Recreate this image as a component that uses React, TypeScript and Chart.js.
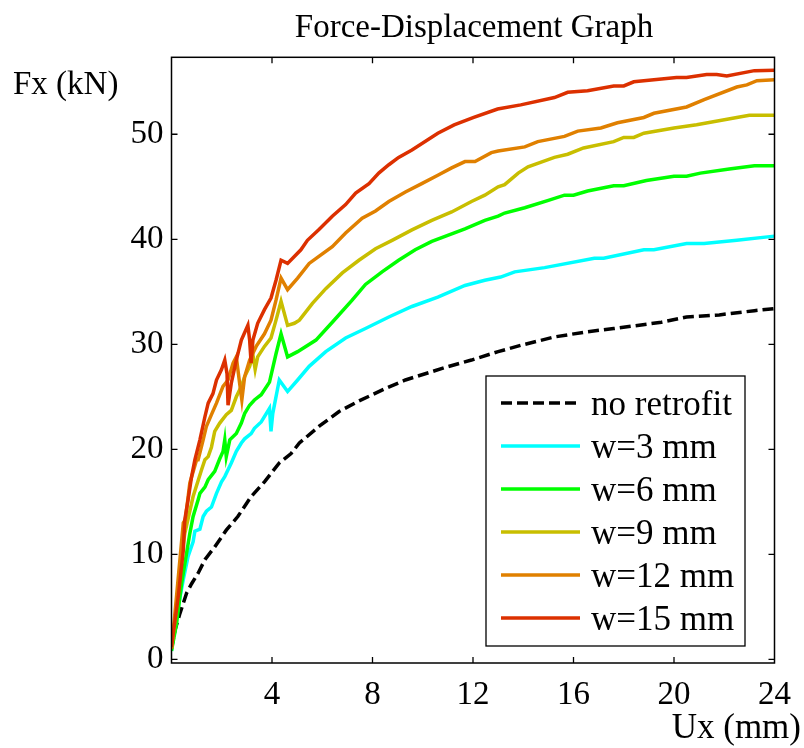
import { useEffect, useRef } from 'react';
import { Chart, registerables } from 'chart.js';

Chart.register(...registerables);

const FONT = '"Liberation Serif", "Times New Roman", Times, serif';

const titleText = 'Force-Displacement Graph';
const yAxisLabel = 'Fx (kN)';
const xAxisLabel = 'Ux (mm)';
const xTickValues = [4, 8, 12, 16, 20, 24];
const xTickMarks = [4, 8, 12, 16, 20];
const yTickValues = [0, 10, 20, 30, 40, 50];

const seriesLabels = ['no retrofit', 'w=3 mm', 'w=6 mm', 'w=9 mm', 'w=12 mm', 'w=15 mm'];
const seriesColors = ['#000000', '#00FFFF', '#00FF00', '#C8BE00', '#E08000', '#DC3000'];

const noRetrofitX = [0, 0.14, 0.34, 0.6, 0.8, 1.06, 1.33, 1.72, 2.18, 2.64, 3.17, 3.7, 4.29, 4.76, 5.09, 5.88, 6.67, 7.46, 8.52, 9.31, 10.9, 11.94, 13.0, 13.9, 15.24, 16.56, 17.6, 19.5, 20.5, 21.8, 23.2, 24];
const noRetrofitY = [1.0, 2.8, 4.4, 6.3, 7.2, 8.2, 9.5, 10.7, 12.3, 13.6, 15.5, 16.9, 18.7, 19.6, 20.6, 22.2, 23.6, 24.6, 25.8, 26.6, 27.8, 28.5, 29.3, 29.9, 30.7, 31.2, 31.5, 32.1, 32.6, 32.8, 33.2, 33.4];

const w3X = [0, 0.07, 0.27, 0.47, 0.66, 0.86, 0.93, 1.13, 1.26, 1.39, 1.59, 1.79, 1.99, 2.12, 2.38, 2.58, 2.78, 2.91, 3.17, 3.3, 3.57, 3.9, 3.96, 4.03, 4.29, 4.62, 5.02, 5.48, 6.14, 6.93, 7.72, 8.65, 9.57, 10.6, 11.68, 12.47, 13.1, 13.66, 14.85, 16.83, 17.2, 18.8, 19.2, 20.5, 21.2, 22.5, 24];
const w3Y = [0.8, 2.2, 5.0, 7.6, 9.8, 11.2, 12.2, 12.4, 13.6, 14.1, 14.5, 15.8, 16.9, 17.4, 18.7, 19.8, 20.6, 21.0, 21.5, 22.0, 22.6, 23.9, 21.7, 23.4, 26.6, 25.5, 26.6, 27.9, 29.3, 30.6, 31.5, 32.6, 33.6, 34.5, 35.6, 36.1, 36.4, 36.9, 37.3, 38.2, 38.2, 39.0, 39.0, 39.6, 39.6, 39.9, 40.3];

const w6X = [0, 0.2, 0.4, 0.6, 0.73, 0.86, 1.06, 1.13, 1.33, 1.46, 1.72, 1.92, 2.05, 2.12, 2.18, 2.32, 2.58, 2.78, 2.91, 3.11, 3.3, 3.57, 3.9, 4.16, 4.36, 4.62, 5.02, 5.75, 6.4, 7.19, 7.72, 8.38, 9.04, 9.7, 10.36, 11.02, 11.68, 12.47, 13.0, 13.26, 14.06, 15.0, 15.64, 16.0, 16.56, 17.6, 18.0, 18.9, 20.0, 20.5, 21.05, 22.2, 23.2, 24];
const w6Y = [0.8, 3.4, 7.2, 10.1, 12.0, 13.6, 15.2, 15.8, 16.4, 17.1, 17.9, 19.1, 19.8, 20.9, 19.3, 20.9, 21.5, 22.5, 23.4, 24.2, 24.7, 25.2, 26.4, 29.1, 31.0, 28.8, 29.3, 30.4, 32.1, 34.2, 35.7, 36.9, 38.0, 39.0, 39.8, 40.4, 41.0, 41.8, 42.2, 42.5, 43.0, 43.7, 44.2, 44.2, 44.6, 45.1, 45.1, 45.6, 46.0, 46.0, 46.3, 46.7, 47.0, 47.0];

const w9X = [0, 0.2, 0.47, 0.53, 0.86, 1.19, 1.33, 1.46, 1.59, 1.72, 1.92, 2.18, 2.38, 2.58, 2.78, 2.91, 3.11, 3.24, 3.33, 3.43, 3.7, 3.96, 4.16, 4.36, 4.62, 4.89, 5.09, 5.61, 6.14, 6.8, 7.46, 8.12, 8.78, 9.57, 10.36, 11.15, 11.94, 12.47, 13.0, 13.26, 13.8, 14.19, 15.24, 15.77, 16.4, 17.6, 18.0, 18.4, 18.8, 20.0, 20.9, 22.5, 23.0, 24];
const w9Y = [1.0, 5.0, 11.0, 12.0, 15.5, 18.0, 19.0, 19.3, 20.2, 21.7, 22.5, 23.3, 23.7, 25.0, 26.0, 26.9, 27.9, 29.0, 27.6, 28.8, 29.8, 30.6, 32.3, 34.1, 31.8, 32.0, 32.3, 33.9, 35.3, 36.8, 38.0, 39.1, 39.9, 40.9, 41.8, 42.6, 43.6, 44.2, 45.0, 45.2, 46.3, 46.9, 47.8, 48.1, 48.7, 49.3, 49.7, 49.7, 50.1, 50.6, 50.9, 51.6, 51.8, 51.8];

const w12X = [0, 0.2, 0.47, 0.55, 0.73, 1.0, 1.06, 1.26, 1.39, 1.59, 1.79, 2.05, 2.25, 2.45, 2.58, 2.71, 2.8, 2.91, 3.11, 3.37, 3.7, 3.96, 4.16, 4.36, 4.62, 5.02, 5.48, 5.88, 6.4, 6.93, 7.59, 8.12, 8.65, 9.31, 9.96, 10.6, 11.15, 11.68, 12.08, 12.73, 13.0, 14.06, 14.58, 15.64, 16.17, 17.09, 17.75, 18.8, 19.2, 20.5, 21.2, 22.5, 22.9, 23.3, 24];
const w12Y = [1.0, 6.0, 13.0, 13.3, 16.8, 19.0, 19.0, 20.9, 22.2, 23.3, 24.4, 26.0, 26.6, 28.2, 28.8, 26.3, 24.7, 26.9, 28.5, 29.8, 31.0, 32.3, 34.2, 36.3, 35.2, 36.3, 37.7, 38.4, 39.3, 40.6, 42.0, 42.7, 43.6, 44.5, 45.3, 46.1, 46.8, 47.4, 47.4, 48.25, 48.4, 48.8, 49.3, 49.8, 50.3, 50.6, 51.1, 51.6, 52.0, 52.6, 53.3, 54.5, 54.7, 55.1, 55.2];

const w15X = [0, 0.27, 0.47, 0.53, 0.66, 0.8, 0.93, 1.13, 1.33, 1.46, 1.65, 1.79, 1.99, 2.12, 2.21, 2.25, 2.38, 2.58, 2.78, 3.04, 3.11, 3.17, 3.24, 3.43, 3.7, 3.96, 4.16, 4.36, 4.62, 5.15, 5.41, 5.88, 6.4, 6.93, 7.33, 7.86, 8.25, 8.65, 9.04, 9.57, 10.6, 11.25, 12.03, 12.98, 13.9, 15.24, 15.77, 16.56, 17.6, 18.0, 18.4, 19.2, 20.1, 20.5, 21.3, 21.7, 22.1, 23.2, 24];
const w15Y = [1.2, 6.0, 10.4, 13.3, 15.2, 17.4, 19.0, 20.9, 23.1, 24.4, 25.3, 26.6, 27.6, 28.5, 27.2, 24.2, 26.3, 28.5, 30.4, 31.8, 30.4, 28.2, 30.4, 32.0, 33.3, 34.4, 36.1, 38.0, 37.7, 39.0, 39.9, 40.95, 42.2, 43.3, 44.4, 45.3, 46.3, 47.1, 47.8, 48.5, 50.1, 50.9, 51.6, 52.4, 52.8, 53.5, 54.0, 54.15, 54.6, 54.6, 55.0, 55.2, 55.4, 55.4, 55.7, 55.7, 55.55, 56.06, 56.1];

const seriesX = [noRetrofitX, w3X, w6X, w9X, w12X, w15X];
const seriesY = [noRetrofitY, w3Y, w6Y, w9Y, w12Y, w15Y];
const seriesDash = [[11, 5], [], [], [], [], []];

const matlabPlugin = {
  id: 'matlabFrame',
  afterDraw(chart: any) {
    const { ctx, chartArea } = chart;
    const xs = chart.scales.x;
    const ys = chart.scales.y;
    const { left, right, top, bottom } = chartArea;
    ctx.save();
    ctx.strokeStyle = '#000';
    ctx.lineWidth = 1.5;
    ctx.strokeRect(left, top, right - left, bottom - top);
    const tl = 6;
    ctx.lineWidth = 1.3;
    ctx.beginPath();
    xTickMarks.forEach((v) => {
      const px = xs.getPixelForValue(v);
      ctx.moveTo(px, bottom);
      ctx.lineTo(px, bottom - tl);
      ctx.moveTo(px, top);
      ctx.lineTo(px, top + tl);
    });
    yTickValues.forEach((v) => {
      const py = ys.getPixelForValue(v);
      ctx.moveTo(left, py);
      ctx.lineTo(left + tl, py);
      ctx.moveTo(right, py);
      ctx.lineTo(right - tl, py);
    });
    ctx.stroke();

    ctx.fillStyle = '#000';
    ctx.textBaseline = 'middle';
    ctx.font = `33px ${FONT}`;
    ctx.textAlign = 'center';
    ctx.fillText(titleText, 474, 28);
    ctx.textAlign = 'left';
    ctx.font = `33px ${FONT}`;
    ctx.fillText(yAxisLabel, 13, 85);
    ctx.textAlign = 'right';
    ctx.font = `35px ${FONT}`;
    ctx.fillText(xAxisLabel, 801, 729);

    const lx = 486, ly = 376, lw = 259, lh = 270;
    ctx.fillStyle = '#fff';
    ctx.fillRect(lx, ly, lw, lh);
    ctx.strokeStyle = '#000';
    ctx.lineWidth = 1.3;
    ctx.strokeRect(lx, ly, lw, lh);
    ctx.font = `35px ${FONT}`;
    ctx.textAlign = 'left';
    ctx.textBaseline = 'middle';
    chart.data.datasets.forEach((ds: any, i: number) => {
      const ry = 403 + i * 43;
      ctx.strokeStyle = ds.borderColor;
      ctx.lineWidth = 3.5;
      ctx.setLineDash(ds.borderDash || []);
      ctx.beginPath();
      ctx.moveTo(501, ry);
      ctx.lineTo(580, ry);
      ctx.stroke();
      ctx.setLineDash([]);
      ctx.fillStyle = '#000';
      ctx.fillText(ds.label, 591, ry + 3);
    });
    ctx.restore();
  },
};

export default function App() {
  const canvasRef = useRef<HTMLCanvasElement | null>(null);

  useEffect(() => {
    const canvas = canvasRef.current;
    if (!canvas) return;
    const datasets = seriesLabels.map((label, i) => ({
      label,
      data: seriesX[i].map((x, j) => ({ x, y: seriesY[i][j] })),
      borderColor: seriesColors[i],
      backgroundColor: seriesColors[i],
      borderWidth: 3.5,
      borderDash: seriesDash[i],
      pointRadius: 0,
      tension: 0,
      fill: false,
      order: seriesLabels.length - 1 - i,
    }));
    const chart = new Chart(canvas, {
      type: 'line',
      data: { datasets },
      plugins: [matlabPlugin],
      options: {
        responsive: false,
        animation: false,
        devicePixelRatio: 1,
        layout: { padding: { left: 0, right: 27, top: 57.3, bottom: 0 } },
        plugins: {
          legend: { display: false },
          title: { display: false },
          tooltip: { enabled: false },
        },
        scales: {
          x: {
            type: 'linear',
            min: 0,
            max: 24,
            grid: { display: false, drawTicks: false },
            border: { display: false },
            afterBuildTicks: (scale: any) => {
              scale.ticks = xTickValues.map((v) => ({ value: v }));
            },
            afterFit: (scale: any) => {
              scale.height = 85;
            },
            ticks: {
              color: '#000',
              font: { family: FONT, size: 33 },
              padding: 13,
              maxRotation: 0,
              autoSkip: false,
            },
          },
          y: {
            type: 'linear',
            min: -0.35,
            max: 57.33,
            grid: { display: false, drawTicks: false },
            border: { display: false },
            afterBuildTicks: (scale: any) => {
              scale.ticks = yTickValues.map((v) => ({ value: v }));
            },
            afterFit: (scale: any) => {
              scale.width = 171.5;
            },
            ticks: {
              color: '#000',
              font: { family: FONT, size: 33 },
              padding: 8,
              autoSkip: false,
            },
          },
        },
      },
    });
    return () => chart.destroy();
  }, []);

  return (
    <div style={{ position: 'fixed', left: 0, top: 0, width: 804, height: 748, background: '#fff' }}>
      <canvas ref={canvasRef} width={804} height={748} style={{ display: 'block' }} />
    </div>
  );
}
